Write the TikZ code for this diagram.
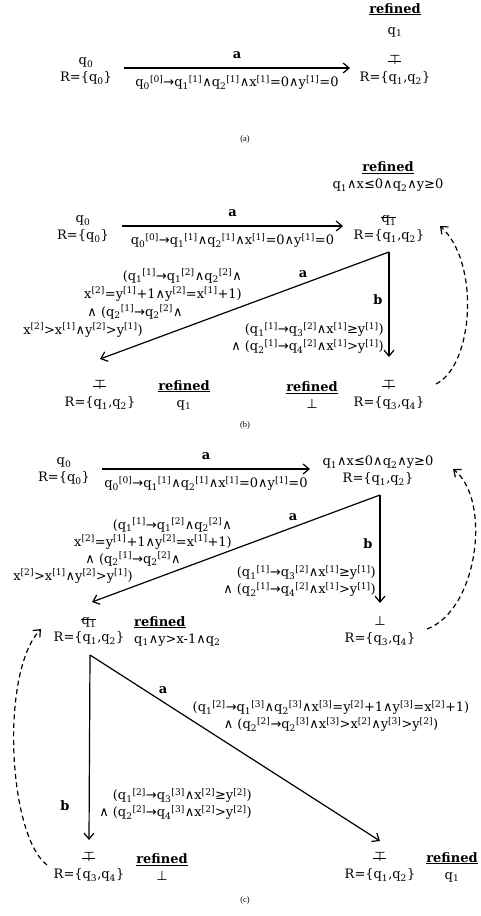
\documentclass[tikz,border=0pt]{standalone}
\usepackage{fontspec}
\setmainfont{DejaVu Serif}
\newfontfamily\symf{DejaVu Sans}
\newfontfamily\capf{Liberation Serif}
\usetikzlibrary{arrows.meta}

\newcommand{\conj}{{\symf ∧}}
\newcommand{\imp}{{\symf →}}
\newcommand{\leqs}{{\symf ≤}}
\newcommand{\geqs}{{\symf ≥}}
\newcommand{\fls}{{\symf ⊥}}
\newcommand{\qi}[1]{q\textsubscript{#1}}
\newcommand{\qt}[2]{q\textsubscript{#1}\textsuperscript{[#2]}}
\newcommand{\vt}[2]{#1\textsuperscript{[#2]}}
\newcommand{\crossout}[2]{\setbox0=\hbox{#2}\rlap{#2}\kern-1pt\rule[#1]{\dimexpr\wd0+1pt\relax}{0.6pt}}
\newcommand{\ntop}{\crossout{0.5ex}{{\symf ⊤}}}
\newcommand{\nqone}{\crossout{0.8ex}{\qi{1}}}
\newcommand{\refd}{\textbf{\underline{refined}}}

\begin{document}
\begin{tikzpicture}[
  x=1pt,y=-1pt,
  every node/.append style={font=\fontsize{13}{17}\selectfont, inner sep=1pt},
  state/.style={align=center},
  note/.style={align=center},
  cond/.style={align=right},
  act/.style={font=\fontsize{13}{17}\selectfont\bfseries},
  edge/.style={-{Straight Barb[length=6pt,width=10pt]}, line width=1.2pt},
  back/.style={edge, dash pattern=on 5pt off 3.5pt},
  capt/.style={font=\capf\fontsize{8.5}{10}\selectfont}
]
\useasboundingbox (0,0) rectangle (480,916);

% (a)
\node[note]  (ra1) at (395,20) {\refd\\[4pt]\qi{1}};
\node[state] (qa0) at (86,71)  {\qi{0}\\R=\{\qi{0}\}};
\node[state] (qa1) at (395,70) {\ntop\\R=\{\qi{1},\qi{2}\}};
\draw[edge] ([xshift=38pt,yshift=3pt]qa0.center) --
  node[act, above=8pt] {a}
  node[below=6pt] {\qt{0}{0}\imp\qt{1}{1}\conj\qt{2}{1}\conj\vt{x}{1}=0\conj\vt{y}{1}=0}
  ([xshift=-45pt,yshift=2pt]qa1.center);
\node[capt] (capa) at (245,139) {(a)};

% (b)
\node[note]  (rb1) at (388,177) {\refd\\\qi{1}\conj x\leqs0\conj\qi{2}\conj y\geqs0};
\node[state] (qb0) at (83,229)  {\qi{0}\\R=\{\qi{0}\}};
\node[state] (qb1) at (389,229) {\nqone\\R=\{\qi{1},\qi{2}\}};
\draw[edge] ([xshift=39pt,yshift=3pt]qb0.center) --
  node[act, above=8pt] {a}
  node[below=6pt] {\qt{0}{0}\imp\qt{1}{1}\conj\qt{2}{1}\conj\vt{x}{1}=0\conj\vt{y}{1}=0}
  ([xshift=-46pt,yshift=3pt]qb1.center);
\node[state] (qb2) at (100,395) {\ntop\\R=\{\qi{1},\qi{2}\}};
\node[note]  (rb2) at (184,395) {\refd\\\qi{1}};
\node[note]  (rb3) at (312,395) {\refd\\\fls};
\node[state] (qb3) at (389,395) {\ntop\\R=\{\qi{3},\qi{4}\}};
\coordinate (fb) at ([yshift=-23pt]qb1.center);
\draw[edge] (fb) -- ([yshift=36pt]qb2.center);
\draw[edge] (fb) -- ([yshift=38pt]qb3.center);
\node[act] (ab) at (303,274) {a};
\node[act] (bb) at (378,300) {b};
\node[anchor=east] (cb1) at (243,276) {(\qt{1}{1}\imp\qt{1}{2}\conj\qt{2}{2}\conj};
\node[anchor=east] (cb2) at (243,294) {\vt{x}{2}=\vt{y}{1}+1\conj\vt{y}{2}=\vt{x}{1}+1)};
\node (cb3) at (135,312) {\conj\ (\qt{2}{1}\imp\qt{2}{2}\conj};
\node (cb4) at (83,330) {\vt{x}{2}>\vt{x}{1}\conj\vt{y}{2}>\vt{y}{1})};
\node[cond, anchor=east] (db) at (385,338)
  {(\qt{1}{1}\imp\qt{3}{2}\conj\vt{x}{1}\geqs\vt{y}{1})\\\conj\ (\qt{2}{1}\imp\qt{4}{2}\conj\vt{x}{1}>\vt{y}{1})};
\draw[back] ([xshift=47pt,yshift=11pt]qb3.center) .. controls (474,365) and (480,262) .. ([xshift=51pt,yshift=3pt]qb1.center);
\node[capt] (capb) at (245,425) {(b)};

% (c)
\node[state] (qc0) at (64,471)  {\qi{0}\\R=\{\qi{0}\}};
\node[state] (qc1) at (378,471) {\qi{1}\conj x\leqs0\conj\qi{2}\conj y\geqs0\\R=\{\qi{1},\qi{2}\}};
\draw[edge] ([xshift=38pt,yshift=2pt]qc0.center) --
  node[act, above=8pt] {a}
  node[below=6pt] {\qt{0}{0}\imp\qt{1}{1}\conj\qt{2}{1}\conj\vt{x}{1}=0\conj\vt{y}{1}=0}
  ([xshift=-68pt,yshift=2pt]qc1.center);
\node[state] (qc2) at (89,631)  {\nqone\\R=\{\qi{1},\qi{2}\}};
\node[note, align=left, anchor=west] (rc2) at (133,631) {\refd\\\qi{1}\conj y>x-1\conj\qi{2}};
\node[state] (qc3) at (380,631) {\fls\\R=\{\qi{3},\qi{4}\}};
\coordinate (fc) at ([xshift=2pt,yshift=-24pt]qc1.center);
\draw[edge] (fc) -- ([xshift=3pt,yshift=29pt]qc2.center);
\draw[edge] (fc) -- ([yshift=28pt]qc3.center);
\node[act] (ac) at (293,517) {a};
\node[act] (bc) at (368,544) {b};
\node[anchor=east] (cc1) at (233,525) {(\qt{1}{1}\imp\qt{1}{2}\conj\qt{2}{2}\conj};
\node[anchor=east] (cc2) at (233,542) {\vt{x}{2}=\vt{y}{1}+1\conj\vt{y}{2}=\vt{x}{1}+1)};
\node (cc3) at (133,559) {\conj\ (\qt{2}{1}\imp\qt{2}{2}\conj};
\node (cc4) at (73,576) {\vt{x}{2}>\vt{x}{1}\conj\vt{y}{2}>\vt{y}{1})};
\node[cond, anchor=east] (dc) at (377,581)
  {(\qt{1}{1}\imp\qt{3}{2}\conj\vt{x}{1}\geqs\vt{y}{1})\\\conj\ (\qt{2}{1}\imp\qt{4}{2}\conj\vt{x}{1}>\vt{y}{1})};
\draw[back] ([xshift=47pt,yshift=2pt]qc3.center) .. controls (478,610) and (492,500) .. ([xshift=75pt,yshift=2pt]qc1.center);

\node[state] (qc4) at (89,867)  {\ntop\\R=\{\qi{3},\qi{4}\}};
\node[note]  (rc4) at (162,867) {\refd\\\fls};
\node[state] (qc5) at (380,867) {\ntop\\R=\{\qi{1},\qi{2}\}};
\node[note]  (rc5) at (452,867) {\refd\\\qi{1}};
\coordinate (gc) at ([xshift=1pt,yshift=-24pt]qc2.center);
\draw[edge] (gc) -- ([yshift=27pt]qc4.center);
\draw[edge] (gc) -- ([yshift=26pt]qc5.center);
\node[act] (ac2) at (163,690) {a};
\node[act] (bc2) at (65,806) {b};
\node[align=center] (ec) at (331,716)
  {(\qt{1}{2}\imp\qt{1}{3}\conj\qt{2}{3}\conj\vt{x}{3}=\vt{y}{2}+1\conj\vt{y}{3}=\vt{x}{2}+1)\\\conj\ (\qt{2}{2}\imp\qt{2}{3}\conj\vt{x}{3}>\vt{x}{2}\conj\vt{y}{3}>\vt{y}{2})};
\node[cond, anchor=east] (fc2) at (253,804)
  {(\qt{1}{2}\imp\qt{3}{3}\conj\vt{x}{2}\geqs\vt{y}{2})\\\conj\ (\qt{2}{2}\imp\qt{4}{3}\conj\vt{x}{2}>\vt{y}{2})};
\draw[back] ([xshift=-42pt,yshift=2pt]qc4.center) .. controls (8,835) and (0,672) .. ([xshift=-48pt,yshift=2pt]qc2.center);
\node[capt] (capc) at (245,900) {(c)};
\end{tikzpicture}
\end{document}
